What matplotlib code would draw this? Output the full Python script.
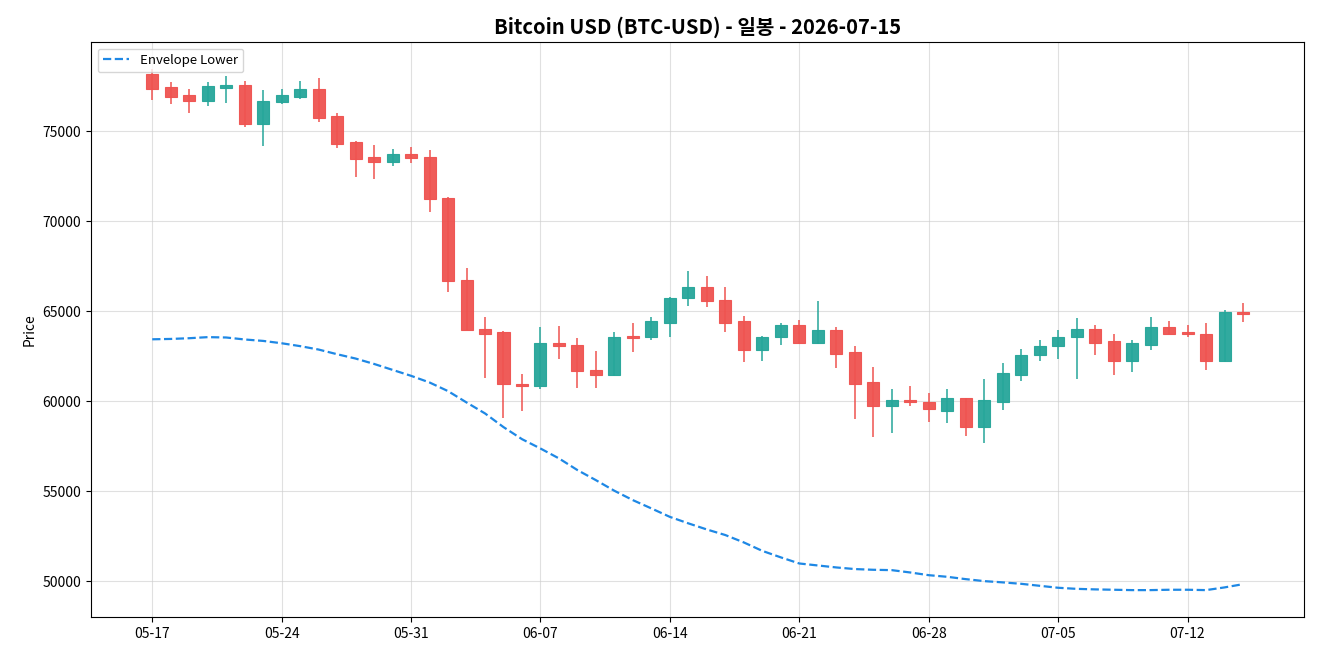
import pandas as pd
import numpy as np
import matplotlib
matplotlib.use('Agg')
import matplotlib.pyplot as plt
import matplotlib.dates as mdates

plt.rcParams['font.family'] = ['Noto Sans CJK KR', 'DejaVu Sans']

# 일봉 데이터 (2026-05-17 ~ 2026-07-15)
dates = pd.date_range('2026-05-17', periods=60, freq='D')

opens = [78170, 77440, 77000, 76680, 77430, 77560, 75430, 76650, 76910, 77330,
         75830, 74390, 73560, 73320, 73760, 73590, 71320, 66710, 64040, 63830,
         60980, 60870, 63260, 63150, 61720, 61430, 63610, 63540, 64370, 65710,
         66320, 65650, 64430, 62870, 63540, 64260, 63210, 63980, 62710, 61040,
         59710, 60040, 59980, 59480, 60150, 58540, 59980, 61480, 62540, 63040,
         63540, 64040, 63320, 62260, 63150, 64150, 63830, 63760, 62210, 64980]
highs = [78480, 77740, 77330, 77740, 78060, 77780, 77280, 77330, 77780, 77960,
         76020, 74440, 74220, 74000, 74110, 73940, 71350, 67410, 64680, 63890,
         61500, 64110, 64180, 63500, 62790, 63830, 64350, 64670, 65780, 67220,
         66940, 66330, 64720, 63600, 64320, 64500, 65560, 64150, 63090, 61890,
         60670, 60830, 60440, 60670, 60160, 61220, 62110, 62890, 63390, 63940,
         64610, 64220, 63720, 63390, 64670, 64440, 64220, 64330, 65060, 65440]
lows = [76720, 76500, 76020, 76390, 76570, 75240, 74180, 76500, 76780, 75520,
        74070, 72460, 72350, 73070, 73240, 70520, 66070, 63950, 61290, 59090,
        59460, 60680, 62350, 60740, 60740, 61390, 62740, 63410, 63570, 65290,
        65240, 63850, 62180, 62240, 63130, 63200, 63170, 61850, 59020, 58020,
        58240, 59740, 58850, 58790, 58070, 57680, 59520, 61130, 62240, 62350,
        61240, 62570, 61460, 61630, 62850, 63750, 63570, 61740, 62200, 64410]
closes = [77370, 76910, 76680, 77500, 77560, 75430, 76690, 77000, 77330, 75740,
          74320, 73480, 73320, 73760, 73540, 71260, 66670, 63980, 63760, 60930,
          60870, 63260, 63090, 61670, 61430, 63590, 63520, 64430, 65760, 66320,
          65590, 64370, 62870, 63590, 64260, 63210, 63980, 62650, 60980, 59710,
          60040, 59930, 59540, 60150, 58540, 60040, 61540, 62590, 63090, 63590,
          64040, 63260, 62260, 63210, 64150, 63760, 63760, 62210, 64980, 64820]

env_lower = [63440, 63460, 63500, 63560, 63540, 63430, 63350, 63220, 63060, 62870,
             62610, 62370, 62070, 61740, 61410, 61040, 60560, 59930, 59320, 58560,
             57890, 57370, 56820, 56170, 55610, 55020, 54500, 54040, 53570, 53210,
             52870, 52560, 52150, 51680, 51320, 50980, 50870, 50760, 50670, 50630,
             50610, 50480, 50330, 50240, 50110, 50000, 49930, 49850, 49740, 49630,
             49570, 49540, 49520, 49500, 49500, 49520, 49520, 49500, 49650, 49830]

df = pd.DataFrame({'Open': opens, 'High': highs, 'Low': lows, 'Close': closes,
                   'EnvLower': env_lower}, index=dates)

up_color = '#26a69a'
down_color = '#ef5350'

fig, ax = plt.subplots(figsize=(13.2, 6.6), dpi=100)

colors = np.where(df['Close'] >= df['Open'], up_color, down_color)
body_bottom = np.minimum(df['Open'], df['Close'])
body_height = np.abs(df['Close'] - df['Open'])

# 꼬리
ax.vlines(df.index, df['Low'], df['High'], colors=colors, linewidth=1.1, zorder=2)
# 몸통
ax.bar(df.index, body_height, bottom=body_bottom, width=0.65, color=colors,
       edgecolor=colors, linewidth=0.8, alpha=0.95, zorder=3)

ax.plot(df.index, df['EnvLower'], color='#1e88e5', linestyle='--', linewidth=1.6,
        label='Envelope Lower', zorder=4)

ax.set_title('Bitcoin USD (BTC-USD) - 일봉 - 2026-07-15', fontsize=14.5, fontweight='bold')
ax.set_ylabel('Price', fontsize=10)
ax.set_ylim(48000, 79950)

ax.xaxis.set_major_locator(mdates.WeekdayLocator(byweekday=mdates.SU))
ax.xaxis.set_major_formatter(mdates.DateFormatter('%m-%d'))
ax.tick_params(labelsize=10)

ax.grid(True, color='#cccccc', alpha=0.6, linewidth=0.8)
ax.set_axisbelow(True)
ax.legend(loc='upper left', fontsize=9.5)

fig.subplots_adjust(left=0.069, right=0.988, top=0.936, bottom=0.065)
fig.savefig('out.png', dpi=100)
